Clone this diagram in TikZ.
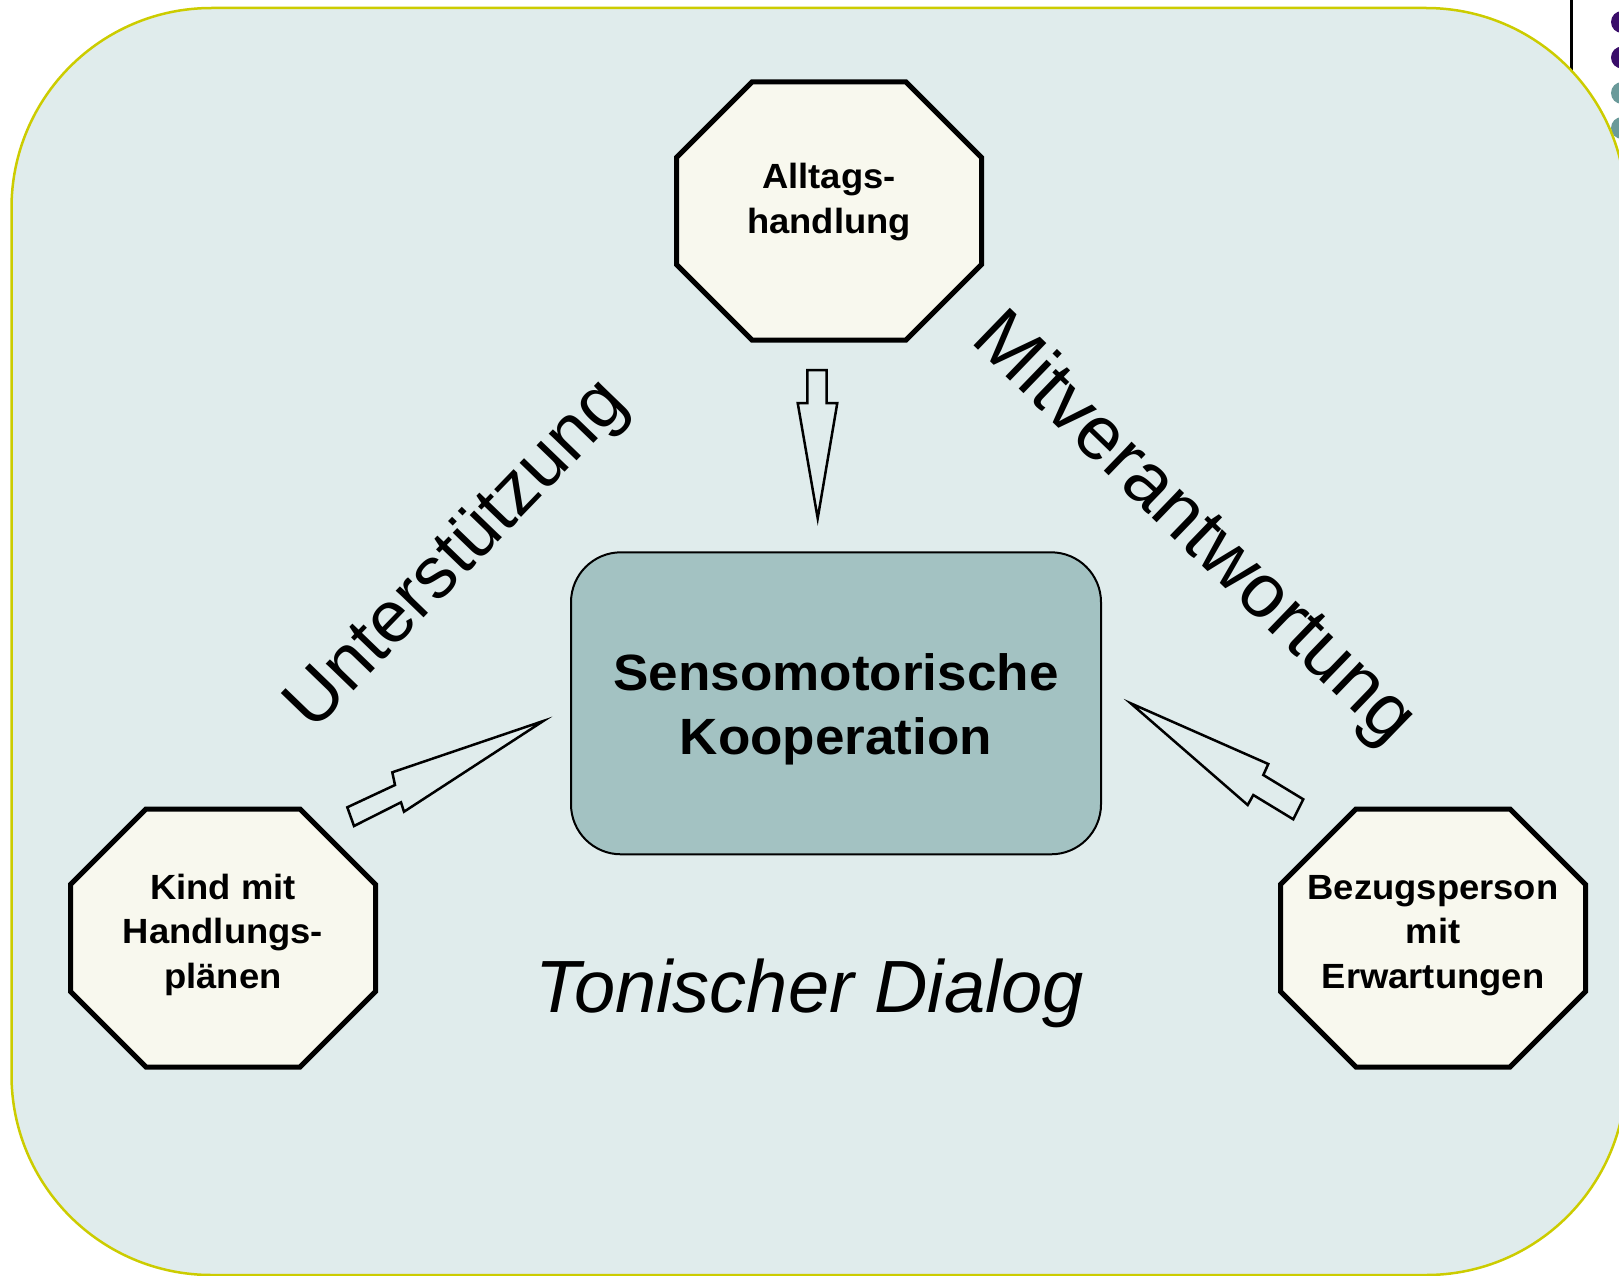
\documentclass[tikz,border=0pt]{standalone}
\usepackage{fontspec}
\setmainfont{Liberation Sans}
\newfontfamily\boxfont{Liberation Sans}[FakeStretch=1.04]
\usepackage{xcolor}
\usepackage{tikz}
\usetikzlibrary{positioning}

\definecolor{bgfill}{RGB}{224,236,236}
\definecolor{bgline}{RGB}{204,204,0}
\definecolor{octfill}{RGB}{248,248,238}
\definecolor{kernfill}{RGB}{163,194,194}
\definecolor{dotpurple}{RGB}{58,14,106}
\definecolor{dotteal}{RGB}{106,154,154}

\tikzset{
  octline/.style={draw=black, line width=5pt, fill=octfill, line join=miter},
  octtext/.style={align=center, inner sep=0pt, font=\boxfont\bfseries\fontsize{35}{44.5}\selectfont},
  kernbox/.style={draw=black, line width=2pt, fill=kernfill, rounded corners=50pt,
    minimum width=530pt, minimum height=302pt},
  kerntext/.style={align=center, inner sep=0pt, font=\boxfont\bfseries\fontsize{51}{64}\selectfont},
  blockarrow/.style={draw=black, line width=2.5pt, fill=bgfill, line join=miter},
  slogan/.style={inner sep=0pt, font=\fontsize{73}{80}\selectfont},
  octagon/.pic={
    \path[octline] (-77,-129) -- (77,-129) -- (152.5,-53.5) -- (152.5,53.5)
      -- (77,129) -- (-77,129) -- (-152.5,53.5) -- (-152.5,-53.5) -- cycle;
  }
}

\begin{document}
\begin{tikzpicture}[x=1pt, y=-1pt]
    % Fix the page size
    \useasboundingbox (0,0) rectangle (1619,1276);
    \clip (0,0) rectangle (1619,1276);

    % Draw slide decoration behind the frame
    \draw[line width=3pt] (1571,0) -- (1571,100);
    \foreach \y/\c in {22/dotpurple, 57.5/dotpurple, 93/dotteal, 128/dotteal}
        \fill[\c] (1622,\y) circle (11);

    % Draw background frame
    \draw[bgline, fill=bgfill, line width=2.5pt, rounded corners=200pt] (11.5,8) rectangle (1626,1275);

    % Draw the three octagons
    \pic at (829,211) {octagon};
    \pic at (223,938) {octagon};
    \pic at (1433,938) {octagon};
    \node[octtext] (alltag) at (829,202) {Alltags-\\handlung};
    \node[octtext] (kind) at (223,934.5) {Kind mit\\Handlungs-\\plänen};
    \node[octtext] (bezug) at (1433,935.5) {Bezugsperson\\mit\\Erwartungen};

    % Draw central box
    \node[kernbox] (kern) at (836,703.3) {};
    \node[kerntext, yshift=-6pt] (kerntxt) at (kern) {Sensomotorische\\Kooperation};

    % Draw block arrows towards the central box
    \draw[blockarrow] (807.3,370) -- (826.7,370) -- (826.7,403) -- (837.3,403)
        -- (817.7,518.3) -- (797.7,403) -- (807.3,403) -- cycle;
    \draw[blockarrow] (543.3,721) -- (392.3,772.3) -- (395,785) -- (347.3,807.3)
        -- (354,826) -- (401,802.3) -- (404,811.7) -- cycle;
    \draw[blockarrow] (1130.7,703.3) -- (1268.3,764) -- (1263.3,775) -- (1303.3,799.3)
        -- (1293.3,819.3) -- (1253.3,795) -- (1247.7,805) -- cycle;

    % Draw side labels and caption
    \node[slogan, rotate=46] (unterst) at (459,557) {Unterstützung};
    \node[slogan, font=\fontsize{76}{80}\selectfont, rotate=-44] (mitver) at (1193,530) {Mitverantwortung};
    \node[slogan, font=\itshape\fontsize{74}{80}\selectfont, anchor=base] (dialog) at (810,1012) {Tonischer Dialog};
\end{tikzpicture}
\end{document}
